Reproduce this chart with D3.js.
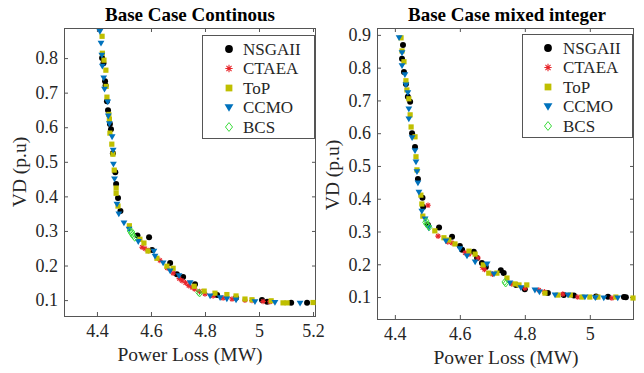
<!DOCTYPE html>
<html><head><meta charset="utf-8">
<script src="https://cdn.jsdelivr.net/npm/d3@7"></script>
<style>
body{margin:0;background:#fff;}
svg{display:block;font-family:"Liberation Serif","Times New Roman",serif;}
</style></head>
<body><svg id="c" width="644" height="373"></svg>
<script>
// ---------- DATA ----------
const seriesNames = ["NSGAII","CTAEA","ToP","CCMO","BCS"];
const titles = ["Base Case Continous","Base Case mixed integer"];
const xLabel = "Power Loss (MW)";
const yLabel = "VD (p.u)";
const leftXTicks = [4.4,4.6,4.8,5,5.2];
const leftYTicks = [0.1,0.2,0.3,0.4,0.5,0.6,0.7,0.8];
const rightXTicks = [4.4,4.6,4.8,5];
const rightYTicks = [0.1,0.2,0.3,0.4,0.5,0.6,0.7,0.8,0.9];
const leftXLim = [4.278,5.211], leftYLim = [0.054,0.887];
const rightXLim = [4.345,5.136], rightYLim = [0.033,0.921];

// Continuous case
const contNSGAII = [[4.419,0.800],[4.424,0.785],[4.430,0.733],[4.432,0.721],[4.437,0.675],[4.441,0.649],[4.448,0.609],[4.452,0.594],[4.459,0.525],[4.468,0.470],[4.471,0.436],[4.478,0.395],[4.487,0.358],[4.550,0.287],[4.593,0.282],[4.604,0.245],[4.671,0.207],[4.696,0.175],[4.719,0.167],[4.763,0.146],[4.845,0.115],[4.915,0.107],[5.011,0.100],[5.030,0.095],[5.119,0.092],[5.178,0.092]];
const contCTAEA = [[4.567,0.253],[4.578,0.249],[4.590,0.243],[4.633,0.215],[4.660,0.193],[4.682,0.178],[4.705,0.162],[4.715,0.156],[4.728,0.150],[4.740,0.142],[4.752,0.137],[4.762,0.132],[4.780,0.125],[4.800,0.118],[4.830,0.112],[4.867,0.106],[4.900,0.103],[4.948,0.100],[4.974,0.099],[5.015,0.096],[5.040,0.095]];
const contToP = [[4.419,0.863],[4.420,0.814],[4.426,0.794],[4.433,0.765],[4.434,0.718],[4.437,0.687],[4.444,0.637],[4.446,0.623],[4.448,0.583],[4.455,0.551],[4.459,0.522],[4.464,0.476],[4.471,0.424],[4.471,0.409],[4.478,0.372],[4.520,0.315],[4.559,0.276],[4.574,0.265],[4.589,0.242],[4.622,0.221],[4.659,0.198],[4.682,0.192],[4.760,0.140],[4.797,0.126],[4.837,0.120],[4.881,0.116],[4.915,0.112],[4.948,0.103],[4.974,0.101],[5.045,0.098],[5.089,0.092],[5.104,0.092],[5.200,0.093]];
const contCCMO = [[4.411,0.877],[4.415,0.843],[4.418,0.808],[4.420,0.776],[4.425,0.742],[4.428,0.710],[4.440,0.673],[4.442,0.632],[4.446,0.610],[4.456,0.572],[4.460,0.533],[4.461,0.493],[4.465,0.450],[4.474,0.377],[4.481,0.349],[4.500,0.323],[4.519,0.305],[4.553,0.269],[4.611,0.241],[4.615,0.227],[4.645,0.207],[4.671,0.184],[4.704,0.170],[4.745,0.150],[4.819,0.112],[4.856,0.107],[4.881,0.103],[4.915,0.100],[4.985,0.095],[5.059,0.093],[5.152,0.091]];
const contBCS = [[4.522,0.300],[4.527,0.294],[4.531,0.289],[4.535,0.285],[4.540,0.280],[4.530,0.297],[4.776,0.122],[4.780,0.119]];

// Mixed integer case
const mixNSGAII = [[4.425,0.869],[4.422,0.827],[4.428,0.787],[4.434,0.750],[4.440,0.711],[4.447,0.696],[4.453,0.600],[4.462,0.558],[4.471,0.460],[4.485,0.403],[4.487,0.375],[4.502,0.320],[4.536,0.312],[4.576,0.284],[4.600,0.256],[4.607,0.244],[4.643,0.238],[4.653,0.219],[4.668,0.204],[4.680,0.192],[4.726,0.182],[4.735,0.173],[4.773,0.137],[4.800,0.124],[4.871,0.112],[4.920,0.106],[4.951,0.105],[5.019,0.102],[5.056,0.101],[5.105,0.100],[5.111,0.099]];
const mixCTAEA = [[4.502,0.380],[4.533,0.286],[4.563,0.268],[4.576,0.265],[4.616,0.235],[4.628,0.231],[4.656,0.219],[4.670,0.190],[4.676,0.184],[4.700,0.170],[4.760,0.140],[4.800,0.127],[4.843,0.121],[4.860,0.116],[4.917,0.109],[4.963,0.100],[5.068,0.097]];
const mixToP = [[4.419,0.891],[4.422,0.851],[4.428,0.818],[4.434,0.760],[4.437,0.732],[4.443,0.705],[4.447,0.656],[4.450,0.619],[4.462,0.589],[4.465,0.528],[4.468,0.488],[4.480,0.411],[4.483,0.384],[4.486,0.347],[4.523,0.302],[4.551,0.281],[4.566,0.274],[4.585,0.262],[4.628,0.240],[4.647,0.231],[4.672,0.198],[4.689,0.173],[4.714,0.173],[4.745,0.158],[4.770,0.140],[4.782,0.137],[4.806,0.137],[4.862,0.112],[4.902,0.106],[4.940,0.106],[4.976,0.100],[5.000,0.100],[5.025,0.100],[5.080,0.100],[5.133,0.097]];
const mixCCMO = [[4.413,0.891],[4.422,0.845],[4.422,0.806],[4.431,0.778],[4.434,0.747],[4.440,0.723],[4.443,0.674],[4.443,0.643],[4.453,0.586],[4.462,0.546],[4.465,0.512],[4.468,0.482],[4.471,0.448],[4.474,0.420],[4.483,0.362],[4.493,0.338],[4.504,0.311],[4.557,0.271],[4.600,0.247],[4.622,0.225],[4.647,0.207],[4.684,0.201],[4.705,0.170],[4.754,0.143],[4.788,0.128],[4.831,0.121],[4.845,0.115],[4.893,0.106],[4.933,0.106],[4.985,0.100],[5.017,0.098],[5.043,0.097],[5.086,0.097]];
const mixBCS = [[4.494,0.328],[4.498,0.322],[4.502,0.317],[4.506,0.313],[4.497,0.332],[4.738,0.146],[4.741,0.141]];

// ---------- STYLE / LAYOUT ----------
const colors = {NSGAII:"#000000",CTAEA:"#e8262b",ToP:"#bfbf00",CCMO:"#0072bd",BCS:"#3ddc3d"};
const svg = d3.select("#c");
const axisColor = "#555";
const textColor = "#262626";

function drawMarker(g, name, x, y, s){
  const c = colors[name];
  if(name==="NSGAII"){
    g.append("circle").attr("cx",x).attr("cy",y).attr("r",3*s).attr("fill",c);
  } else if(name==="CTAEA"){
    const r=2.8*s;
    let d="";
    for(let k=0;k<4;k++){const a=k*Math.PI/4;d+=`M${x-r*Math.cos(a)},${y-r*Math.sin(a)}L${x+r*Math.cos(a)},${y+r*Math.sin(a)}`;}
    g.append("path").attr("d",d).attr("stroke",c).attr("stroke-width",1.1).attr("fill","none");
  } else if(name==="ToP"){
    const h=2.6*s;
    g.append("rect").attr("x",x-h).attr("y",y-h).attr("width",2*h).attr("height",2*h).attr("fill",c);
  } else if(name==="CCMO"){
    const w=3.4*s;
    g.append("path").attr("d",`M${x-w},${y-w*0.75}L${x+w},${y-w*0.75}L${x},${y+w*0.95}Z`).attr("fill",c);
  } else if(name==="BCS"){
    const r=3.4*s;
    g.append("path").attr("d",`M${x},${y-r}L${x+r*0.8},${y}L${x},${y+r}L${x-r*0.8},${y}Z`).attr("fill","none").attr("stroke",c).attr("stroke-width",1);
  }
}

function panel(cfg){
  const x = d3.scaleLinear().domain(cfg.xlim).range([cfg.x0,cfg.x1]);
  const y = d3.scaleLinear().domain(cfg.ylim).range([cfg.y1,cfg.y0]);
  const g = svg.append("g");
  const fmt = d=>String(+d.toFixed(2));
  const ax = g.append("g").attr("transform",`translate(0,${cfg.y1})`)
    .call(d3.axisBottom(x).tickValues(cfg.xt).tickSizeInner(-4).tickSizeOuter(0).tickPadding(8).tickFormat(fmt));
  const axT = g.append("g").attr("transform",`translate(0,${cfg.y0})`)
    .call(d3.axisTop(x).tickValues(cfg.xt).tickSizeInner(-4).tickSizeOuter(0).tickFormat(""));
  const ay = g.append("g").attr("transform",`translate(${cfg.x0},0)`)
    .call(d3.axisLeft(y).tickValues(cfg.yt).tickSizeInner(-4).tickSizeOuter(0).tickPadding(6).tickFormat(fmt));
  const ayR = g.append("g").attr("transform",`translate(${cfg.x1},0)`)
    .call(d3.axisRight(y).tickValues(cfg.yt).tickSizeInner(-4).tickSizeOuter(0).tickFormat(""));
  [ax,axT,ay,ayR].forEach(a=>{
    a.attr("font-family",null).attr("font-size",null);
    a.select(".domain").remove();
    a.selectAll("line").attr("stroke",axisColor);
    a.selectAll("text").attr("fill",textColor).style("font-size","18px").style("font-family","'Liberation Serif',serif");
  });
  g.append("rect").attr("x",cfg.x0+0.5).attr("y",cfg.y0+0.5).attr("width",cfg.x1-cfg.x0-1).attr("height",cfg.y1-cfg.y0)
    .attr("fill","none").attr("stroke",axisColor).attr("stroke-width",1);
  const pg = g.append("g");
  seriesNames.forEach((n,i)=>{
    cfg.data[i].forEach(p=>drawMarker(pg,n,x(p[0]),y(p[1]),1));
  });
  g.append("text").attr("x",cfg.tx).attr("y",21).attr("text-anchor","middle")
    .style("font-weight","bold").style("font-size","19px").attr("fill","#000").text(cfg.title);
  g.append("text").attr("x",cfg.lx).attr("y",cfg.lxy).attr("text-anchor","middle")
    .style("font-size","19.5px").attr("fill",textColor).text(xLabel);
  g.append("text").attr("transform",`translate(${cfg.ly},${cfg.lyy}) rotate(-90)`).attr("text-anchor","middle")
    .style("font-size","19.5px").attr("fill",textColor).text(yLabel);
  const L = cfg.leg;
  const lg = g.append("g");
  lg.append("rect").attr("x",L.x+0.5).attr("y",L.y+0.5).attr("width",L.w).attr("height",L.h)
    .attr("fill","#fff").attr("stroke",axisColor).attr("stroke-width",1);
  seriesNames.forEach((n,i)=>{
    const yy = L.y + 14 + i*19.5;
    drawMarker(lg,n,L.mx,yy,1.3);
    lg.append("text").attr("x",L.tx).attr("y",yy).attr("dy","0.35em")
      .style("font-size","17px").attr("fill",textColor).text(n);
  });
}

panel({x0:64,x1:316,y0:28,y1:316,xlim:leftXLim,ylim:leftYLim,xt:leftXTicks,yt:leftYTicks,
  data:[contNSGAII,contCTAEA,contToP,contCCMO,contBCS],title:titles[0],tx:190,lx:190,lxy:361,ly:26,lyy:172,
  leg:{x:202,y:35,w:112,h:103,mx:229,tx:243}});
panel({x0:377,x1:634,y0:28,y1:319,xlim:rightXLim,ylim:rightYLim,xt:rightXTicks,yt:rightYTicks,
  data:[mixNSGAII,mixCTAEA,mixToP,mixCCMO,mixBCS],title:titles[1],tx:507,lx:506,lxy:364,ly:339,lyy:175,
  leg:{x:522,y:34,w:110,h:103,mx:548,tx:563}});
</script></body></html>
